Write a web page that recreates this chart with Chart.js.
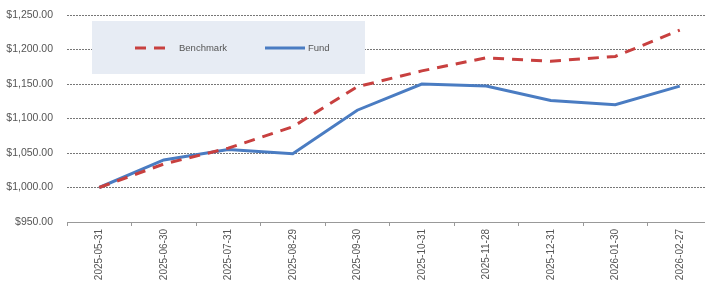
<!DOCTYPE html>
<html>
<head>
<meta charset="utf-8">
<script src="https://cdn.jsdelivr.net/npm/chart.js@4/dist/chart.umd.min.js"></script>
<style>
html,body{margin:0;padding:0;background:#fff;overflow:hidden;width:705px;height:281px;}
canvas{display:block;}
</style>
</head>
<body>
<canvas id="c" width="720" height="281"></canvas>
<script>
const categories = ["2025-05-31","2025-06-30","2025-07-31","2025-08-29","2025-09-30","2025-10-31","2025-11-28","2025-12-31","2026-01-30","2026-02-27"];
const benchmark = [1000, 1034, 1057, 1088, 1146, 1169, 1188, 1183, 1190, 1228];
const fund = [1000, 1040, 1055, 1049, 1112, 1150, 1147, 1126, 1120, 1147];
const yMin = 950, yMax = 1250, yStep = 50;

const fmt = v => '$' + v.toLocaleString('en-US', {minimumFractionDigits: 2, maximumFractionDigits: 2});

const legendBox = {
  id: 'legendBox',
  beforeDatasetsDraw(chart) {
    const ctx = chart.ctx;
    ctx.save();
    ctx.fillStyle = '#e7ecf4';
    ctx.fillRect(92, 21, 273, 53);
    const items = [
      {ds: chart.data.datasets[0], x0: 135, x1: 172, tx: 179},
      {ds: chart.data.datasets[1], x0: 265, x1: 305, tx: 308}
    ];
    const y = 48;
    items.forEach(it => {
      ctx.strokeStyle = it.ds.borderColor;
      ctx.lineWidth = it.ds.borderWidth;
      ctx.setLineDash(it.ds.borderDash || []);
      ctx.beginPath();
      ctx.moveTo(it.x0, y);
      ctx.lineTo(it.x1, y);
      ctx.stroke();
      ctx.setLineDash([]);
      ctx.fillStyle = '#555';
      ctx.font = '9.5px "Liberation Sans", Arial, sans-serif';
      ctx.textBaseline = 'middle';
      ctx.textAlign = 'left';
      ctx.fillText(it.ds.label, it.tx, y);
    });
    ctx.restore();
  }
};

new Chart(document.getElementById('c'), {
  type: 'line',
  data: {
    labels: categories,
    datasets: [
      {label: 'Benchmark', data: benchmark, borderColor: '#c8403f', borderWidth: 3, borderDash: [11, 8], pointRadius: 0, tension: 0, fill: false},
      {label: 'Fund', data: fund, borderColor: '#4a7cc2', borderWidth: 3, pointRadius: 0, tension: 0, fill: false}
    ]
  },
  options: {
    responsive: false,
    devicePixelRatio: 1,
    animation: false,
    layout: {padding: {top: 15, right: 8, left: 0, bottom: 0}},
    plugins: {legend: {display: false}, tooltip: {enabled: false}},
    scales: {
      x: {
        offset: true,
        grid: {offset: true, drawOnChartArea: false, drawTicks: true, tickLength: 4, color: '#999'},
        border: {display: true, color: '#999', width: 1},
        ticks: {minRotation: 90, maxRotation: 90, autoSkip: false, padding: 3, color: '#555', font: {family: '"Liberation Sans", Arial, sans-serif', size: 10}},
        afterFit(s) { s.height = 59; }
      },
      y: {
        min: yMin, max: yMax,
        ticks: {stepSize: yStep, padding: 14, color: '#555', font: {family: '"Liberation Sans", Arial, sans-serif', size: 10.5}, callback: v => fmt(v)},
        grid: {drawTicks: false, color: '#777', lineWidth: 1},
        border: {display: false, dash: [2, 1]},
        afterFit(s) { s.width = 67; s.paddingTop = 0; s.paddingBottom = 0; }
      }
    }
  },
  plugins: [legendBox]
});
</script>
</body>
</html>
